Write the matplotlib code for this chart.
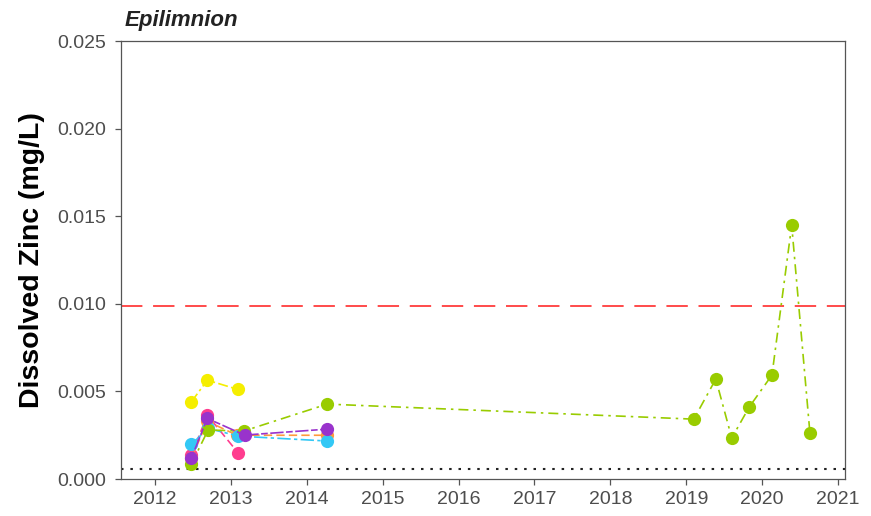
import numpy as np
import matplotlib.pyplot as plt

# sampling dates (decimal years) and dissolved zinc (mg/L) per site
yellow_t = [2012.48, 2012.69, 2013.09]
yellow_v = [0.00441, 0.00565, 0.00512]

pink_t = [2012.48, 2012.69, 2013.10]
pink_v = [0.00137, 0.00365, 0.00147]

orange_t = [2012.48, 2012.69, 2013.08, 2014.27]
orange_v = [0.00118, 0.00330, 0.00250, 0.00250]

blue_t = [2012.48, 2012.70, 2013.10, 2014.27]
blue_v = [0.00198, 0.00289, 0.00245, 0.00217]

green_t = [2012.48, 2012.70, 2013.17, 2014.27, 2019.10, 2019.39, 2019.60,
           2019.83, 2020.13, 2020.39, 2020.63]
green_v = [0.00086, 0.00280, 0.00274, 0.00428, 0.00342, 0.00571, 0.00234,
           0.00411, 0.00594, 0.01450, 0.00263]

purple_t = [2012.48, 2012.69, 2013.18, 2014.27]
purple_v = [0.00120, 0.00346, 0.00251, 0.00285]

guideline = 0.0099
detection = 0.00057

years = list(range(2012, 2022))
yticks = [0.000, 0.005, 0.010, 0.015, 0.020, 0.025]

plt.rcParams['font.family'] = ['Liberation Sans', 'DejaVu Sans']

fig = plt.figure(figsize=(8.71, 5.16), dpi=100)
ax = fig.add_axes([0.1389, 0.0717, 0.9696 - 0.1389, 0.9196 - 0.0717])

series = [
    (yellow_t, yellow_v, '#F5EE00', (0, (6, 2, 1.5, 2))),
    (pink_t, pink_v, '#FF3D8F', (0, (5, 2.5))),
    (orange_t, orange_v, '#FF9A3C', (0, (5, 2.5))),
    (blue_t, blue_v, '#33C8F5', (0, (8, 2, 2, 2))),
    (green_t, green_v, '#99CC00', (0, (6, 3, 1.5, 3))),
    (purple_t, purple_v, '#9933CC', (0, (4, 1.5, 8, 1.5))),
]
for t, v, c, ls in series:
    ax.plot(t, v, color=c, linestyle=ls, linewidth=1.2,
            marker='o', markersize=9.5, markeredgewidth=0, zorder=3)

ax.axhline(guideline, color='#FF1A1A', linestyle=(0, (14, 7)), linewidth=1.1, zorder=2)
ax.axhline(detection, color='#222222', linestyle=(0, (1.2, 3.3)), linewidth=1.5, zorder=2)

ax.set_xlim(2011.552, 2021.086)
ax.set_ylim(0, 0.025)
ax.set_xticks(years)
ax.set_xticklabels([str(y) for y in years])
ax.set_yticks(yticks)
ax.set_yticklabels(['%.3f' % y for y in yticks])

for s in ax.spines.values():
    s.set_color('#555555')
    s.set_linewidth(0.9)
ax.tick_params(colors='#555555', labelcolor='#4D4D4D', labelsize=14,
               length=4.5, width=0.9)
ax.tick_params(axis='x', pad=4)
ax.tick_params(axis='y', pad=6)

ax.set_ylabel('Dissolved Zinc (mg/L)', fontsize=20.5, fontweight='bold',
              color='black', labelpad=9)
ax.set_title('Epilimnion', loc='left', fontsize=16, fontweight='bold',
             fontstyle='italic', color='#222222', pad=11, x=0.005)

fig.savefig('out.png', dpi=100)
